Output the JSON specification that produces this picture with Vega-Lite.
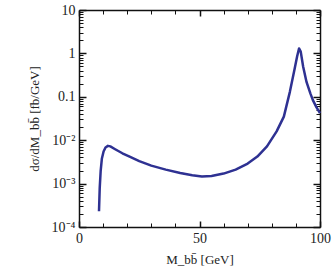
{
  "$schema": "https://vega.github.io/schema/vega-lite/v6.json",
  "width": 241,
  "height": 217,
  "autosize": "none",
  "padding": {"left": 79, "top": 10, "right": 12, "bottom": 45},
  "background": "white",
  "config": {
    "view": {"stroke": null},
    "axis": {"labelFont": "Liberation Serif", "titleFont": "Liberation Serif", "labelColor": "#222", "titleColor": "#222", "domainColor": "#111", "tickColor": "#111", "domainWidth": 1.5, "grid": false, "labelFontSize": 14, "titleFontSize": 13, "titleFontWeight": "normal", "labelFlush": false, "labelOverlap": false}
  },
  "data": {"values": [
    {"m": 8.3, "s": 0.00023},
    {"m": 8.6, "s": 0.0008},
    {"m": 9.0, "s": 0.002},
    {"m": 9.5, "s": 0.0038},
    {"m": 10.2, "s": 0.0055},
    {"m": 11, "s": 0.0068},
    {"m": 12, "s": 0.0074},
    {"m": 13, "s": 0.0072},
    {"m": 15, "s": 0.0062},
    {"m": 18, "s": 0.005},
    {"m": 21, "s": 0.0042},
    {"m": 25, "s": 0.0033},
    {"m": 30, "s": 0.0026},
    {"m": 36, "s": 0.0021},
    {"m": 42, "s": 0.00175},
    {"m": 47, "s": 0.00155},
    {"m": 51, "s": 0.00145},
    {"m": 55, "s": 0.0015},
    {"m": 60, "s": 0.0017},
    {"m": 65, "s": 0.0021},
    {"m": 70, "s": 0.0029},
    {"m": 74, "s": 0.0042},
    {"m": 78, "s": 0.0072},
    {"m": 82, "s": 0.016},
    {"m": 85, "s": 0.035},
    {"m": 87.5, "s": 0.13},
    {"m": 89.5, "s": 0.45},
    {"m": 90.5, "s": 0.85},
    {"m": 91.3, "s": 1.3},
    {"m": 92, "s": 1.1},
    {"m": 93, "s": 0.5},
    {"m": 94.4, "s": 0.22},
    {"m": 96, "s": 0.12},
    {"m": 97, "s": 0.085},
    {"m": 98.5, "s": 0.058},
    {"m": 100, "s": 0.042}
  ]},
  "resolve": {"axis": {"x": "independent", "y": "independent"}},
  "layer": [
    {
      "mark": {"type": "line", "color": "#2e3192", "strokeWidth": 2.5, "strokeJoin": "round", "strokeCap": "butt"},
      "encoding": {
        "x": {"field": "m", "type": "quantitative", "scale": {"domain": [0, 100], "nice": false}, "axis": {"orient": "bottom", "values": [0, 50, 100], "tickSize": -6, "tickWidth": 1.5, "labelPadding": 10, "title": "M_bb̄ [GeV]", "titlePadding": 8}},
        "y": {"field": "s", "type": "quantitative", "scale": {"type": "log", "domain": [0.0001, 10], "nice": false}, "axis": {"orient": "left", "values": [0.0001, 0.001, 0.01, 0.1, 1, 10], "tickSize": -7, "tickWidth": 1.5, "labelPadding": 11, "labelExpr": "datum.value >= 9 ? '10' : datum.value >= 0.9 ? '1' : datum.value >= 0.09 ? '0.1' : datum.value >= 0.009 ? '10⁻²' : datum.value >= 0.0009 ? '10⁻³' : '10⁻⁴'", "title": "dσ/dM_bb̄  [fb/GeV]", "titlePadding": 10}}
      }
    },
    {
      "mark": {"type": "line", "strokeOpacity": 0},
      "encoding": {
        "x": {"field": "m", "type": "quantitative", "axis": {"orient": "top", "values": [0, 50, 100], "labels": false, "title": null, "tickSize": -6, "tickWidth": 1.5}},
        "y": {"field": "s", "type": "quantitative", "axis": {"orient": "right", "values": [0.0001, 0.001, 0.01, 0.1, 1, 10], "labels": false, "title": null, "tickSize": -7, "tickWidth": 1.5}}
      }
    },
    {
      "mark": {"type": "line", "strokeOpacity": 0},
      "encoding": {
        "x": {"field": "m", "type": "quantitative", "axis": {"orient": "top", "values": [10, 20, 30, 40, 60, 70, 80, 90], "labels": false, "title": null, "tickSize": -4, "domain": false}},
        "y": {"field": "s", "type": "quantitative", "axis": {"orient": "right", "values": [0.0002,0.0003,0.0004,0.0005,0.0006,0.0007,0.0008,0.0009,0.002,0.003,0.004,0.005,0.006,0.007,0.008,0.009,0.02,0.03,0.04,0.05,0.06,0.07,0.08,0.09,0.2,0.3,0.4,0.5,0.6,0.7,0.8,0.9,2,3,4,5,6,7,8,9], "labels": false, "title": null, "tickSize": -4, "domain": false}}
      }
    },
    {
      "mark": {"type": "line", "strokeOpacity": 0},
      "encoding": {
        "x": {"field": "m", "type": "quantitative", "axis": {"orient": "bottom", "values": [10, 20, 30, 40, 60, 70, 80, 90], "labels": false, "title": null, "tickSize": -4, "domain": false}},
        "y": {"field": "s", "type": "quantitative", "axis": {"orient": "left", "values": [0.0002,0.0003,0.0004,0.0005,0.0006,0.0007,0.0008,0.0009,0.002,0.003,0.004,0.005,0.006,0.007,0.008,0.009,0.02,0.03,0.04,0.05,0.06,0.07,0.08,0.09,0.2,0.3,0.4,0.5,0.6,0.7,0.8,0.9,2,3,4,5,6,7,8,9], "labels": false, "title": null, "tickSize": -4, "domain": false}}
      }
    }
  ]
}
